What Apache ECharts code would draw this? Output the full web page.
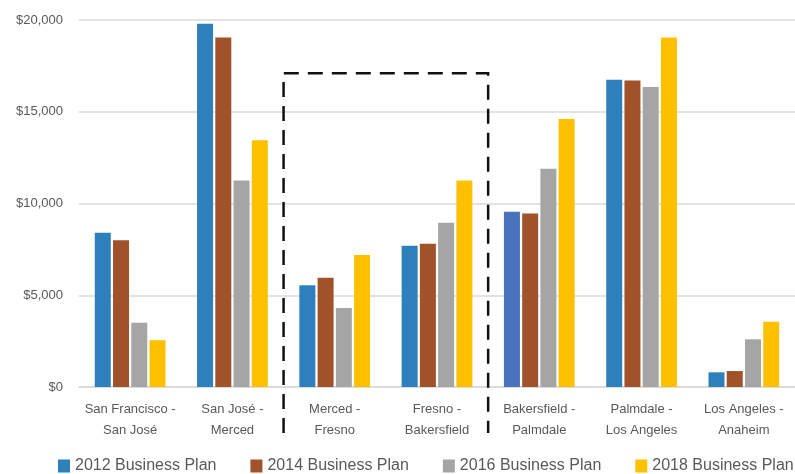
<!DOCTYPE html>
<html>
<head>
<meta charset="utf-8">
<script src="https://cdn.jsdelivr.net/npm/echarts@6/dist/echarts.min.js"></script>
<style>
  html, body { margin: 0; padding: 0; background: #fff; }
  #chart { width: 795px; height: 474px; }
</style>
</head>
<body>
<div id="chart"></div>
<script>
// Corridor segments (two-line labels)
const segments = [
  'San Francisco -\nSan José',
  'San José -\nMerced',
  'Merced -\nFresno',
  'Fresno -\nBakersfield',
  'Bakersfield -\nPalmdale',
  'Palmdale -\nLos Angeles',
  'Los Angeles -\nAnaheim'
];

// Segment cost by business plan edition (millions of dollars)
const plan2012 = [8400, 19800, 5550, 7700, 9550, 16750, 800];
const plan2014 = [8000, 19050, 5950, 7800, 9450, 16700, 870];
const plan2016 = [3500, 11250, 4300, 8950, 11900, 16350, 2600];
const plan2018 = [2550, 13450, 7200, 11250, 14600, 19050, 3550];

const seriesNames = ['2012 Business Plan', '2014 Business Plan', '2016 Business Plan', '2018 Business Plan'];
const seriesColors = ['#2E80BC', '#A0522A', '#A5A5A5', '#FFC000'];

// 2012 bar for Bakersfield - Palmdale is shown in a distinct blue
const altBlueIndex = 4;
const altBlue = '#4872BE';

// Dashed bracket around the Central Valley segments: [first index, last index, top value]
const bracket = [[2, 3, 17100]];

const yTicks = { min: 0, max: 20000, interval: 5000 };

const textColor = '#595959';
const fontFamily = '"Liberation Sans", Arial, sans-serif';

function barSeries(name, values, color, idx) {
  return {
    name: name,
    type: 'bar',
    barWidth: 16,
    barGap: '14%',
    itemStyle: { color: color },
    data: values.map(function (v, i) {
      if (idx === 0 && i === altBlueIndex) {
        return { value: v, itemStyle: { color: altBlue } };
      }
      return v;
    })
  };
}

const chart = echarts.init(document.getElementById('chart'), null, { renderer: 'canvas' });

chart.setOption({
  animation: false,
  backgroundColor: '#ffffff',
  textStyle: { fontFamily: fontFamily },
  grid: { left: 79, right: 0, top: 20, bottom: 87, containLabel: false },
  legend: {
    data: seriesNames,
    left: 58,
    top: 458,
    width: 737,
    padding: 0,
    itemWidth: 12,
    itemHeight: 13,
    itemGap: 34,
    icon: 'rect',
    textStyle: { color: textColor, fontSize: 16, fontFamily: fontFamily }
  },
  xAxis: {
    type: 'category',
    data: segments,
    axisTick: { show: false },
    axisLine: { lineStyle: { color: '#D9D9D9', width: 1.5 } },
    axisLabel: {
      color: textColor,
      fontSize: 13,
      lineHeight: 21,
      margin: 12,
      interval: 0,
      fontFamily: fontFamily
    }
  },
  yAxis: {
    type: 'value',
    min: yTicks.min,
    max: yTicks.max,
    interval: yTicks.interval,
    axisLine: { show: false },
    axisTick: { show: false },
    splitLine: { lineStyle: { color: '#D9D9D9', width: 1.5 } },
    axisLabel: {
      color: textColor,
      fontSize: 13,
      margin: 16,
      fontFamily: fontFamily,
      formatter: function (v) { return '$' + v.toLocaleString('en-US'); }
    }
  },
  series: [
    barSeries(seriesNames[0], plan2012, seriesColors[0], 0),
    barSeries(seriesNames[1], plan2014, seriesColors[1], 1),
    barSeries(seriesNames[2], plan2016, seriesColors[2], 2),
    barSeries(seriesNames[3], plan2018, seriesColors[3], 3),
    {
      type: 'custom',
      clip: false,
      silent: true,
      z: 5,
      data: bracket,
      renderItem: function (params, api) {
        const band = api.size([1, 0])[0];
        const first = api.coord([api.value(0), api.value(2)]);
        const last = api.coord([api.value(1), api.value(2)]);
        const base = api.coord([api.value(0), 0])[1];
        const x0 = first[0] - band / 2;
        const x1 = last[0] + band / 2;
        const top = first[1];
        const bottom = base + 46;
        return {
          type: 'polyline',
          shape: { points: [[x0, bottom], [x0, top], [x1, top], [x1, bottom]] },
          style: { stroke: '#111111', fill: null, lineWidth: 2.5, lineDash: [15, 9] }
        };
      }
    }
  ]
});
</script>
</body>
</html>
